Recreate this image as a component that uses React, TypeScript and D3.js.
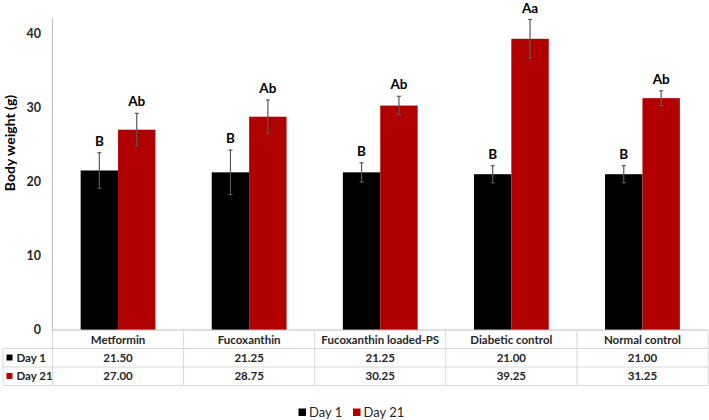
import React from "react";
import * as d3 from "d3";

const categories = ["Metformin", "Fucoxanthin", "Fucoxanthin loaded-PS", "Diabetic control", "Normal control"];
const seriesNames = ["Day 1", "Day 21"];
const day1 = [21.5, 21.25, 21.25, 21.0, 21.0];
const day21 = [27.0, 28.75, 30.25, 39.25, 31.25];
const day1Err = [2.4, 3.0, 1.3, 1.15, 1.15];
const day21Err = [2.2, 2.25, 1.25, 2.6, 1.0];
const day1Letters = ["B", "B", "B", "B", "B"];
const day21Letters = ["Ab", "Ab", "Ab", "Aa", "Ab"];
const yTicks = [0, 10, 20, 30, 40];
const colors = ["#000000", "#b00000"];

const W = 709;
const H = 420;
const FONT = "Lato, 'Open Sans', sans-serif";

export default function App() {
  const left = 52.5;
  const right = 708;
  const y0 = 330;
  const y = d3.scaleLinear().domain([0, 42]).range([y0, 18.4]);
  const x = d3.scaleBand<string>().domain(categories).range([left, right]).padding(0);
  const barW = 37.4;
  const inner = d3
    .scaleBand<string>()
    .domain(seriesNames)
    .range([(x.bandwidth() - 2 * barW) / 2, (x.bandwidth() + 2 * barW) / 2])
    .padding(0);
  const series = [day1, day21];
  const errs = [day1Err, day21Err];
  const letters = [day1Letters, day21Letters];

  const rowLines = [348.5, 367, 385.5];
  const rowCenters = [357.5, 376];
  const tableLine = "#d9d9d9";

  return (
    <svg width={W} height={H} style={{ position: "absolute", left: 0, top: 0, background: "#fff" }}>
      <rect x={0} y={0} width={W} height={H} fill="#fff" />
      {/* y axis */}
      <line x1={left} x2={left} y1={y(42)} y2={y0} stroke="#bfbfbf" strokeWidth={1} />
      {yTicks.map((t) => (
        <text
          key={t}
          x={41}
          y={y(t)}
          dy="0.35em"
          textAnchor="end"
          fontFamily={FONT}
          fontWeight="bold"
          fontSize={12.5}
          fill="#262626"
        >
          {t}
        </text>
      ))}
      <text
        transform={`translate(10,${143}) rotate(-90)`}
        textAnchor="middle"
        dy="0.35em"
        fontFamily={FONT}
        fontWeight="bold"
        fontSize={14}
        fill="#000"
      >
        Body weight (g)
      </text>

      {/* bars */}
      {categories.map((c, i) => (
        <g key={c} transform={`translate(${x(c)},0)`}>
          {seriesNames.map((s, j) => {
            const v = series[j][i];
            const bx = inner(s)!;
            const cx = bx + barW / 2;
            const e = errs[j][i];
            return (
              <g key={s}>
                <rect x={bx} y={y(v)} width={barW} height={y0 - y(v)} fill={colors[j]} />
                <line x1={cx} x2={cx} y1={y(v + e)} y2={y(v - e)} stroke="#595959" strokeWidth={1.2} />
                <line x1={cx - 2} x2={cx + 2} y1={y(v + e)} y2={y(v + e)} stroke="#595959" strokeWidth={1.2} />
                <line x1={cx - 2} x2={cx + 2} y1={y(v - e)} y2={y(v - e)} stroke="#595959" strokeWidth={1.2} />
                <text
                  x={cx}
                  y={y(v + e) - 7}
                  textAnchor="middle"
                  fontFamily={FONT}
                  fontWeight="bold"
                  fontSize={13.5}
                  fill="#000"
                >
                  {letters[j][i]}
                </text>
              </g>
            );
          })}
        </g>
      ))}

      {/* axis line / table */}
      <line x1={left} x2={right} y1={y0} y2={y0} stroke="#bfbfbf" strokeWidth={1} />
      {[...categories.map((c) => x(c)!), right].map((vx, k) => (
        <line key={k} x1={vx} x2={vx} y1={y0} y2={rowLines[2]} stroke={tableLine} strokeWidth={1} />
      ))}
      <line x1={3} x2={3} y1={rowLines[0]} y2={rowLines[2]} stroke={tableLine} strokeWidth={1} />
      {rowLines.map((ly, k) => (
        <line key={k} x1={3} x2={right} y1={ly} y2={ly} stroke={tableLine} strokeWidth={1} />
      ))}
      {categories.map((c) => (
        <text
          key={c}
          x={x(c)! + x.bandwidth() / 2}
          y={339.5}
          dy="0.35em"
          textAnchor="middle"
          fontFamily={FONT}
          fontWeight="bold"
          fontSize={11.5}
          fill="#262626"
        >
          {c}
        </text>
      ))}
      {seriesNames.map((s, j) => (
        <g key={s}>
          <rect x={6.5} y={rowCenters[j] - 3} width={6} height={6} fill={colors[j]} />
          <text
            x={16.5}
            y={rowCenters[j]}
            dy="0.35em"
            fontFamily={FONT}
            fontWeight="bold"
            fontSize={11.5}
            fill="#262626"
          >
            {s}
          </text>
          {categories.map((c, i) => (
            <text
              key={c}
              x={x(c)! + x.bandwidth() / 2}
              y={rowCenters[j]}
              dy="0.35em"
              textAnchor="middle"
              fontFamily={FONT}
              fontWeight="bold"
              fontSize={11.5}
              fill="#262626"
            >
              {series[j][i].toFixed(2)}
            </text>
          ))}
        </g>
      ))}

      {/* legend */}
      {seriesNames.map((s, j) => {
        const lx = [298.5, 353][j];
        return (
          <g key={s}>
            <rect x={lx} y={408.5} width={7.5} height={7.5} fill={colors[j]} />
            <text x={lx + 10.5} y={412.3} dy="0.35em" fontFamily={FONT} fontSize={13} fill="#262626">
              {s}
            </text>
          </g>
        );
      })}
    </svg>
  );
}
